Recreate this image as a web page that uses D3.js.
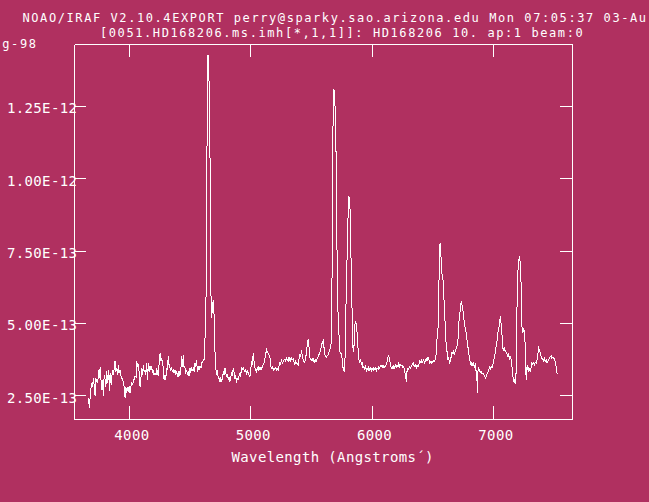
<!DOCTYPE html>
<html><head><meta charset="utf-8">
<script src="https://cdn.jsdelivr.net/npm/d3@7"></script>
<style>
html,body{margin:0;padding:0;background:#b03060;overflow:hidden;}
svg{display:block;}
text{font-family:"DejaVu Sans Mono",monospace;font-size:14px;fill:#ffffff;letter-spacing:0.37px;}
text.hdr{font-size:12px;letter-spacing:1.58px;}
</style></head><body>
<svg id="chart" width="649" height="502"></svg>
<script>
const titleLine1 = "NOAO/IRAF V2.10.4EXPORT perry@sparky.sao.arizona.edu Mon 07:05:37 03-Au";
const titleWrap = "g-98";
const titleLine2 = "[0051.HD168206.ms.imh[*,1,1]]: HD168206 10. ap:1 beam:0";
const xLabel = "Wavelength (Angstroms\u00B4)";
const xTicks = [4000, 5000, 6000, 7000];
const xTickLabels = ["4000", "5000", "6000", "7000"];
const yTicks = [2.5e-13, 5e-13, 7.5e-13, 1e-12, 1.25e-12];
const yTickLabels = ["2.50E-13", "5.00E-13", "7.50E-13", "1.00E-12", "1.25E-12"];
const fluxUnit = 1e-13;
const wavelengths = [
3662,3668,3670,3676,3681,3689,3695,3703,3709,3717,3722,3731,3739,3744,3753,3758,3766,3772,3777,3785,
3791,3799,3805,3813,3818,3827,3832,3835,3840,3849,3854,3862,3868,3876,3881,3887,3895,3901,3909,3914,
3923,3928,3936,3945,3950,3956,3964,3969,3977,3983,3991,3997,4005,4010,4019,4027,4032,4041,4046,4054,
4060,4065,4074,4079,4087,4093,4101,4106,4115,4120,4128,4134,4142,4148,4156,4161,4170,4175,4183,4189,
4197,4202,4211,4219,4224,4230,4238,4244,4252,4257,4266,4271,4279,4285,4293,4298,4307,4312,4320,4326,
4334,4340,4348,4353,4362,4367,4375,4381,4389,4394,4403,4408,4416,4425,4430,4436,4444,4449,4458,4463,
4471,4477,4485,4491,4499,4504,4512,4518,4526,4532,4540,4545,4554,4559,4567,4573,4581,4589,4595,4603,
4608,4617,4622,4628,4636,4641,4647,4653,4658,4666,4672,4677,4686,4692,4699,4704,4710,4718,4724,4732,
4737,4746,4751,4759,4765,4773,4779,4787,4792,4800,4806,4814,4820,4828,4833,4842,4847,4855,4861,4869,
4875,4883,4888,4896,4902,4910,4916,4924,4929,4938,4943,4951,4957,4965,4971,4979,4984,4993,4998,5006,
5012,5020,5025,5034,5039,5047,5053,5061,5067,5075,5080,5089,5094,5102,5108,5116,5121,5130,5135,5143,
5149,5157,5163,5171,5176,5185,5190,5198,5204,5212,5217,5226,5231,5239,5245,5253,5259,5267,5272,5281,
5286,5294,5300,5308,5313,5322,5327,5335,5341,5349,5355,5363,5368,5377,5382,5390,5396,5404,5410,5418,
5423,5431,5437,5445,5451,5459,5464,5473,5478,5486,5492,5500,5506,5514,5519,5527,5533,5541,5547,5555,
5560,5569,5574,5582,5588,5596,5602,5610,5615,5624,5629,5637,5643,5651,5656,5665,5668,5671,5678,5684,
5690,5695,5698,5703,5709,5714,5719,5725,5733,5747,5755,5760,5769,5774,5780,5785,5791,5799,5807,5816,
5821,5826,5832,5838,5843,5851,5857,5865,5873,5881,5887,5898,5903,5912,5917,5925,5931,5939,5944,5953,
5958,5966,5972,5980,5986,5994,5999,6008,6013,6021,6027,6035,6040,6049,6054,6062,6068,6076,6082,6090,
6095,6104,6109,6117,6123,6131,6137,6145,6150,6158,6164,6172,6178,6186,6191,6200,6205,6213,6219,6227,
6233,6241,6246,6254,6260,6268,6274,6282,6287,6296,6301,6309,6315,6323,6329,6337,6342,6350,6356,6364,
6370,6378,6383,6392,6397,6405,6411,6419,6425,6433,6438,6446,6452,6460,6466,6474,6479,6488,6493,6501,
6507,6515,6523,6529,6534,6542,6548,6551,6556,6562,6564,6570,6575,6584,6589,6592,6597,6603,6606,6611,
6617,6625,6630,6639,6644,6652,6658,6666,6671,6680,6685,6693,6699,6707,6713,6715,6721,6726,6732,6735,
6740,6748,6754,6762,6767,6776,6781,6789,6795,6803,6809,6817,6822,6831,6836,6844,6850,6858,6863,6866,
6869,6872,6877,6885,6891,6899,6905,6913,6918,6927,6932,6940,6946,6954,6960,6968,6973,6981,6987,6995,
7001,7009,7014,7023,7028,7036,7042,7045,7050,7055,7058,7064,7069,7072,7077,7083,7091,7097,7105,7110,
7119,7124,7132,7138,7146,7152,7154,7160,7165,7173,7179,7182,7187,7193,7195,7201,7204,7209,7215,7220,
7223,7228,7231,7237,7242,7247,7253,7258,7261,7267,7269,7272,7278,7283,7289,7297,7302,7311,7316,7324,
7330,7338,7344,7352,7357,7365,7371,7374,7379,7385,7393,7398,7407,7412,7420,7426,7434,7440,7448,7453,
7462,7467,7475,7481,7489,7494,7503,7508,7516,7522,7525,7530
];
const fluxes = [
2.41,2.12,2.06,2.47,2.70,2.93,2.79,3.10,2.83,2.47,3.10,2.98,2.93,3.39,3.10,3.47,2.98,2.70,3.04,2.47,
3.22,3.04,2.81,3.33,2.93,3.39,2.98,2.64,3.27,2.87,3.16,3.39,3.22,3.50,3.70,3.33,3.45,3.22,3.56,3.27,
3.39,3.22,3.10,3.04,2.93,2.79,2.41,2.81,2.58,2.79,2.64,2.81,2.58,2.79,2.93,2.87,3.04,3.07,3.18,3.13,
3.68,3.50,3.56,3.33,2.81,3.04,3.45,3.22,3.56,3.33,3.37,3.22,3.64,3.04,3.62,3.33,3.53,3.39,3.50,3.27,
3.37,3.22,3.27,3.22,3.45,3.33,3.16,3.62,3.96,3.68,3.79,3.62,3.45,3.04,3.22,3.04,3.45,3.39,3.87,3.56,
3.45,3.39,3.45,3.33,3.39,3.27,3.37,3.22,3.33,3.22,3.13,3.33,3.18,3.50,3.87,3.50,3.91,3.50,3.45,3.25,
3.39,3.22,3.33,3.16,3.45,3.27,3.50,3.37,3.45,3.33,3.62,3.50,3.73,3.33,3.53,3.37,3.50,3.45,3.62,3.68,
3.71,3.76,4.43,5.12,7.54,13.66,14.28,14.04,12.66,9.89,5.81,5.19,5.71,5.81,5.05,4.08,3.46,3.22,3.39,3.07,
3.13,2.98,3.13,2.98,3.07,3.33,3.22,3.45,3.33,3.13,3.25,3.04,3.13,2.98,3.10,3.25,3.18,3.45,3.33,3.07,
3.22,2.93,3.10,3.07,3.18,3.27,3.16,3.50,3.39,3.45,3.39,3.33,3.41,3.22,3.37,3.27,3.22,3.16,3.33,3.68,
3.56,3.96,3.73,3.45,3.39,3.33,3.45,3.39,3.50,3.39,3.45,3.41,3.50,3.56,3.62,3.79,3.91,4.08,4.02,3.96,
3.91,3.85,3.50,3.45,3.50,3.39,3.45,3.39,3.45,3.39,3.45,3.39,3.50,3.64,3.60,3.71,3.62,3.68,3.73,3.76,
3.68,3.83,3.71,3.79,3.68,3.83,3.71,3.79,3.73,3.76,3.68,3.56,3.68,3.60,3.62,3.56,3.73,3.94,3.85,4.06,
3.91,3.73,3.68,3.64,3.79,3.99,4.20,4.45,4.25,3.83,3.76,3.71,3.76,3.68,3.76,3.64,3.73,3.68,3.79,3.83,
3.91,3.96,4.08,4.20,4.33,4.40,4.20,3.94,3.85,3.83,3.87,3.91,3.99,4.08,4.20,4.37,5.12,8.89,12.07,13.11,
13.00,12.38,11.55,10.82,7.88,6.50,5.29,4.77,4.01,3.94,3.67,3.46,3.32,3.39,4.43,5.81,6.85,8.37,9.41,9.23,
8.37,7.19,5.81,4.94,4.01,4.25,4.94,5.08,4.84,4.36,3.80,3.62,3.76,3.56,3.64,3.45,3.50,3.41,3.50,3.37,
3.45,3.37,3.48,3.39,3.45,3.33,3.45,3.37,3.45,3.39,3.45,3.37,3.45,3.41,3.48,3.45,3.53,3.50,3.56,3.45,
3.53,3.48,3.53,3.56,3.68,3.83,3.87,3.76,3.56,3.45,3.50,3.41,3.53,3.45,3.56,3.50,3.56,3.48,3.60,3.50,
3.56,3.53,3.56,3.45,3.50,3.33,3.22,2.98,3.33,3.45,3.41,3.50,3.45,3.50,3.56,3.64,3.56,3.50,3.56,3.45,
3.56,3.50,3.56,3.68,3.64,3.73,3.64,3.68,3.73,3.64,3.71,3.76,3.71,3.83,3.79,3.60,3.68,3.62,3.68,3.64,
3.71,3.68,3.79,3.97,4.43,4.66,5.92,6.50,7.71,7.75,7.60,7.08,6.73,6.50,6.16,5.81,5.35,4.89,4.54,4.20,
4.02,3.73,3.79,3.64,3.71,3.85,3.99,3.94,4.02,3.94,4.06,4.14,4.20,4.43,4.77,5.06,5.29,5.46,5.69,5.75,
5.64,5.46,5.23,4.94,4.83,4.66,4.43,4.20,3.97,3.79,3.62,3.56,3.64,3.53,3.60,3.50,3.56,3.30,3.27,2.58,
3.27,3.33,3.45,3.39,3.30,3.33,3.25,3.27,3.22,3.18,3.10,3.16,3.25,3.30,3.39,3.48,3.37,3.50,3.45,3.56,
3.68,3.85,3.97,4.25,4.33,4.66,4.77,4.86,5.00,5.18,5.26,4.89,4.77,4.31,4.14,4.08,4.14,4.02,3.99,3.94,
3.85,3.91,3.79,3.85,3.73,3.62,3.27,3.16,3.04,2.93,3.10,2.90,3.39,4.77,6.39,6.73,7.08,7.19,7.31,7.08,
6.62,6.39,5.12,4.77,4.66,4.83,4.71,4.77,4.08,3.39,3.04,3.50,3.39,3.56,3.33,3.45,3.33,3.48,3.62,3.56,
3.62,3.56,3.64,3.62,3.68,3.85,4.20,4.14,4.06,3.97,3.85,3.79,3.73,3.70,3.79,3.68,3.73,3.64,3.68,3.71,
3.79,3.83,3.87,3.79,3.83,3.79,3.76,3.68,3.50,3.33,3.25,3.27
];

const spectrum = wavelengths.map((w, i) => ({w: w, f: fluxes[i] * fluxUnit}));

const W = 649, H = 502;
const L = 74, R = 572, T = 44, B = 419;
const svg = d3.select("#chart");
svg.append("rect").attr("width", W).attr("height", H).attr("fill", "#b03060");

const x = d3.scaleLinear().domain([3546.7, 7651.2]).range([L, R]);
const y = d3.scaleLinear().domain([1.670e-13, 14.645e-13]).range([B, T]);

function styleAxis(g) {
  g.style("color", "#ffffff").attr("font-family", null).attr("font-size", null);
  g.selectAll("path, line").attr("shape-rendering", "crispEdges").attr("stroke-width", 1);
}

// bottom axis with labels
const gB = svg.append("g").attr("transform", `translate(0,${B})`)
  .call(d3.axisBottom(x).tickValues(xTicks).tickFormat((d, i) => xTickLabels[i])
    .tickSizeInner(-13).tickSizeOuter(0).tickPadding(11));
styleAxis(gB);
gB.selectAll("text").attr("dx", 2.4);

// top axis, ticks only
const gT = svg.append("g").attr("transform", `translate(0,${T})`)
  .call(d3.axisTop(x).tickValues(xTicks).tickFormat(() => "")
    .tickSizeInner(-13).tickSizeOuter(0));
styleAxis(gT);

// left axis with labels
const gL = svg.append("g").attr("transform", `translate(${L},0)`)
  .call(d3.axisLeft(y).tickValues(yTicks).tickFormat((d, i) => yTickLabels[i])
    .tickSizeInner(-12).tickSizeOuter(0).tickPadding(-3.3));
styleAxis(gL);
gL.selectAll("text").attr("dy", 7);

// right axis, ticks only
const gR = svg.append("g").attr("transform", `translate(${R},0)`)
  .call(d3.axisRight(y).tickValues(yTicks).tickFormat(() => "")
    .tickSizeInner(-12).tickSizeOuter(0));
styleAxis(gR);

// spectrum
const line = d3.line().x(d => x(d.w)).y(d => y(d.f));
svg.append("path").datum(spectrum)
  .attr("d", line)
  .attr("transform", "translate(0.5,0.5)")
  .attr("fill", "none").attr("stroke", "#ffffff").attr("stroke-width", 1)
  .attr("shape-rendering", "crispEdges");

// header lines
svg.append("text").attr("class", "hdr").attr("x", 22.5).attr("y", 22.3).text(titleLine1);
svg.append("text").attr("class", "hdr").attr("x", 100).attr("y", 36.8).text(titleLine2);
svg.append("text").attr("class", "hdr").attr("x", 2.3).attr("y", 48).text(titleWrap);

svg.append("text").attr("x", 231.5).attr("y", 461.5).text(xLabel);
</script>
</body></html>
